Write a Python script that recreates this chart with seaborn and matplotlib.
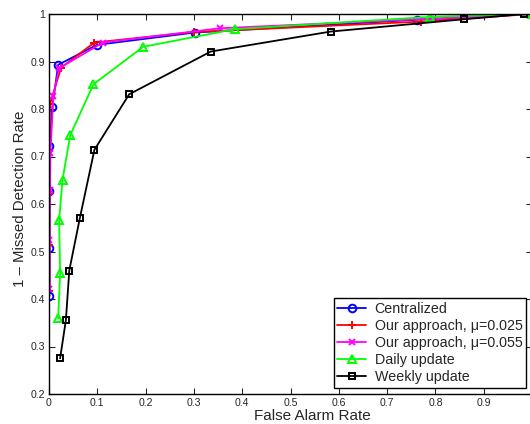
import matplotlib
matplotlib.use("Agg")
import matplotlib.pyplot as plt
import seaborn as sns

sns.set_style("white")
plt.rcParams['font.family'] = ['Liberation Sans', 'DejaVu Sans']

# Data
cent_x = [0.001, 0.001, 0.001, 0.001, 0.007, 0.019, 0.099, 0.302, 0.761, 1.0]
cent_y = [0.407, 0.507, 0.628, 0.722, 0.805, 0.893, 0.935, 0.961, 0.988, 1.0]

our025_x = [0.001, 0.001, 0.001, 0.001, 0.002, 0.025, 0.094, 0.30, 0.77, 1.0]
our025_y = [0.417, 0.514, 0.622, 0.712, 0.810, 0.887, 0.940, 0.962, 0.984, 1.0]

our055_x = [0.001, 0.001, 0.002, 0.003, 0.009, 0.021, 0.112, 0.354, 0.79, 1.0]
our055_y = [0.421, 0.524, 0.63, 0.708, 0.828, 0.886, 0.940, 0.970, 0.990, 1.0]

daily_x = [0.019, 0.023, 0.021, 0.028, 0.044, 0.092, 0.195, 0.385, 0.789, 1.0]
daily_y = [0.359, 0.454, 0.566, 0.651, 0.745, 0.852, 0.931, 0.968, 0.994, 1.0]

weekly_x = [0.023, 0.035, 0.042, 0.064, 0.094, 0.166, 0.335, 0.583, 0.860, 0.984]
weekly_y = [0.275, 0.356, 0.460, 0.571, 0.714, 0.831, 0.921, 0.963, 0.989, 1.0]

labels = ["Centralized", "Our approach, \u03bc=0.025", "Our approach, \u03bc=0.055",
          "Daily update", "Weekly update"]
xticks = [0, 0.1, 0.2, 0.3, 0.4, 0.5, 0.6, 0.7, 0.8, 0.9, 1]
yticks = [0.2, 0.3, 0.4, 0.5, 0.6, 0.7, 0.8, 0.9, 1]

fig = plt.figure(figsize=(5.30, 4.24), dpi=100)
ax = fig.add_axes([49/530, 30/424, 483/530, 380/424])

series = [
    (cent_x, cent_y, (0, 0, 1), 'o', 'none', 5.5),
    (our025_x, our025_y, (1, 0, 0), '+', None, 6),
    (our055_x, our055_y, (1, 0, 1), 'x', None, 4.5),
    (daily_x, daily_y, (0, 1, 0), '^', 'none', 6),
    (weekly_x, weekly_y, (0, 0, 0), 's', 'none', 4.5),
]
for (xs, ys, col, mk, mfc, ms), lab in zip(series, labels):
    kw = dict(markersize=ms, markeredgewidth=1.4, markeredgecolor=col)
    if mfc is not None:
        kw['markerfacecolor'] = mfc
    sns.lineplot(x=xs, y=ys, ax=ax, color=col, marker=mk, linewidth=1.3,
                 estimator=None, sort=False, label=lab, **kw)

ax.set_xlim(0, 1)
ax.set_ylim(0.2, 1)
ax.set_xticks(xticks)
ax.set_xticklabels([f"{t:g}" for t in xticks])
ax.set_yticks(yticks)
ax.set_yticklabels([f"{t:g}" for t in yticks])
ax.tick_params(direction='in', length=4, width=0.8, labelsize=7.6,
               top=True, right=True, bottom=True, left=True, pad=3)
for s in ax.spines.values():
    s.set_visible(True)
    s.set_color('black')
    s.set_linewidth(1.0)
ax.set_xlabel("False Alarm Rate", fontsize=11)
ax.set_ylabel("1 \u2013 Missed Detection Rate", fontsize=10.8)
ax.xaxis.set_label_coords((312 - 49) / 483, -22.5 / 380, transform=ax.transAxes)
ax.yaxis.set_label_coords(-29 / 483, (394 - 199) / 380, transform=ax.transAxes)
ax.yaxis.label.set_va('center')
ax.xaxis.label.set_va('center')

leg = ax.legend(loc='lower right', bbox_to_anchor=(477/483, 6/380),
                borderaxespad=0,
                fontsize=10.3, frameon=True, fancybox=False, edgecolor='black',
                handlelength=2.0, handletextpad=0.6, borderpad=0.25,
                labelspacing=0.22)
leg.get_frame().set_linewidth(1.0)
leg.get_frame().set_alpha(1)

fig.savefig("out.png", dpi=100)
